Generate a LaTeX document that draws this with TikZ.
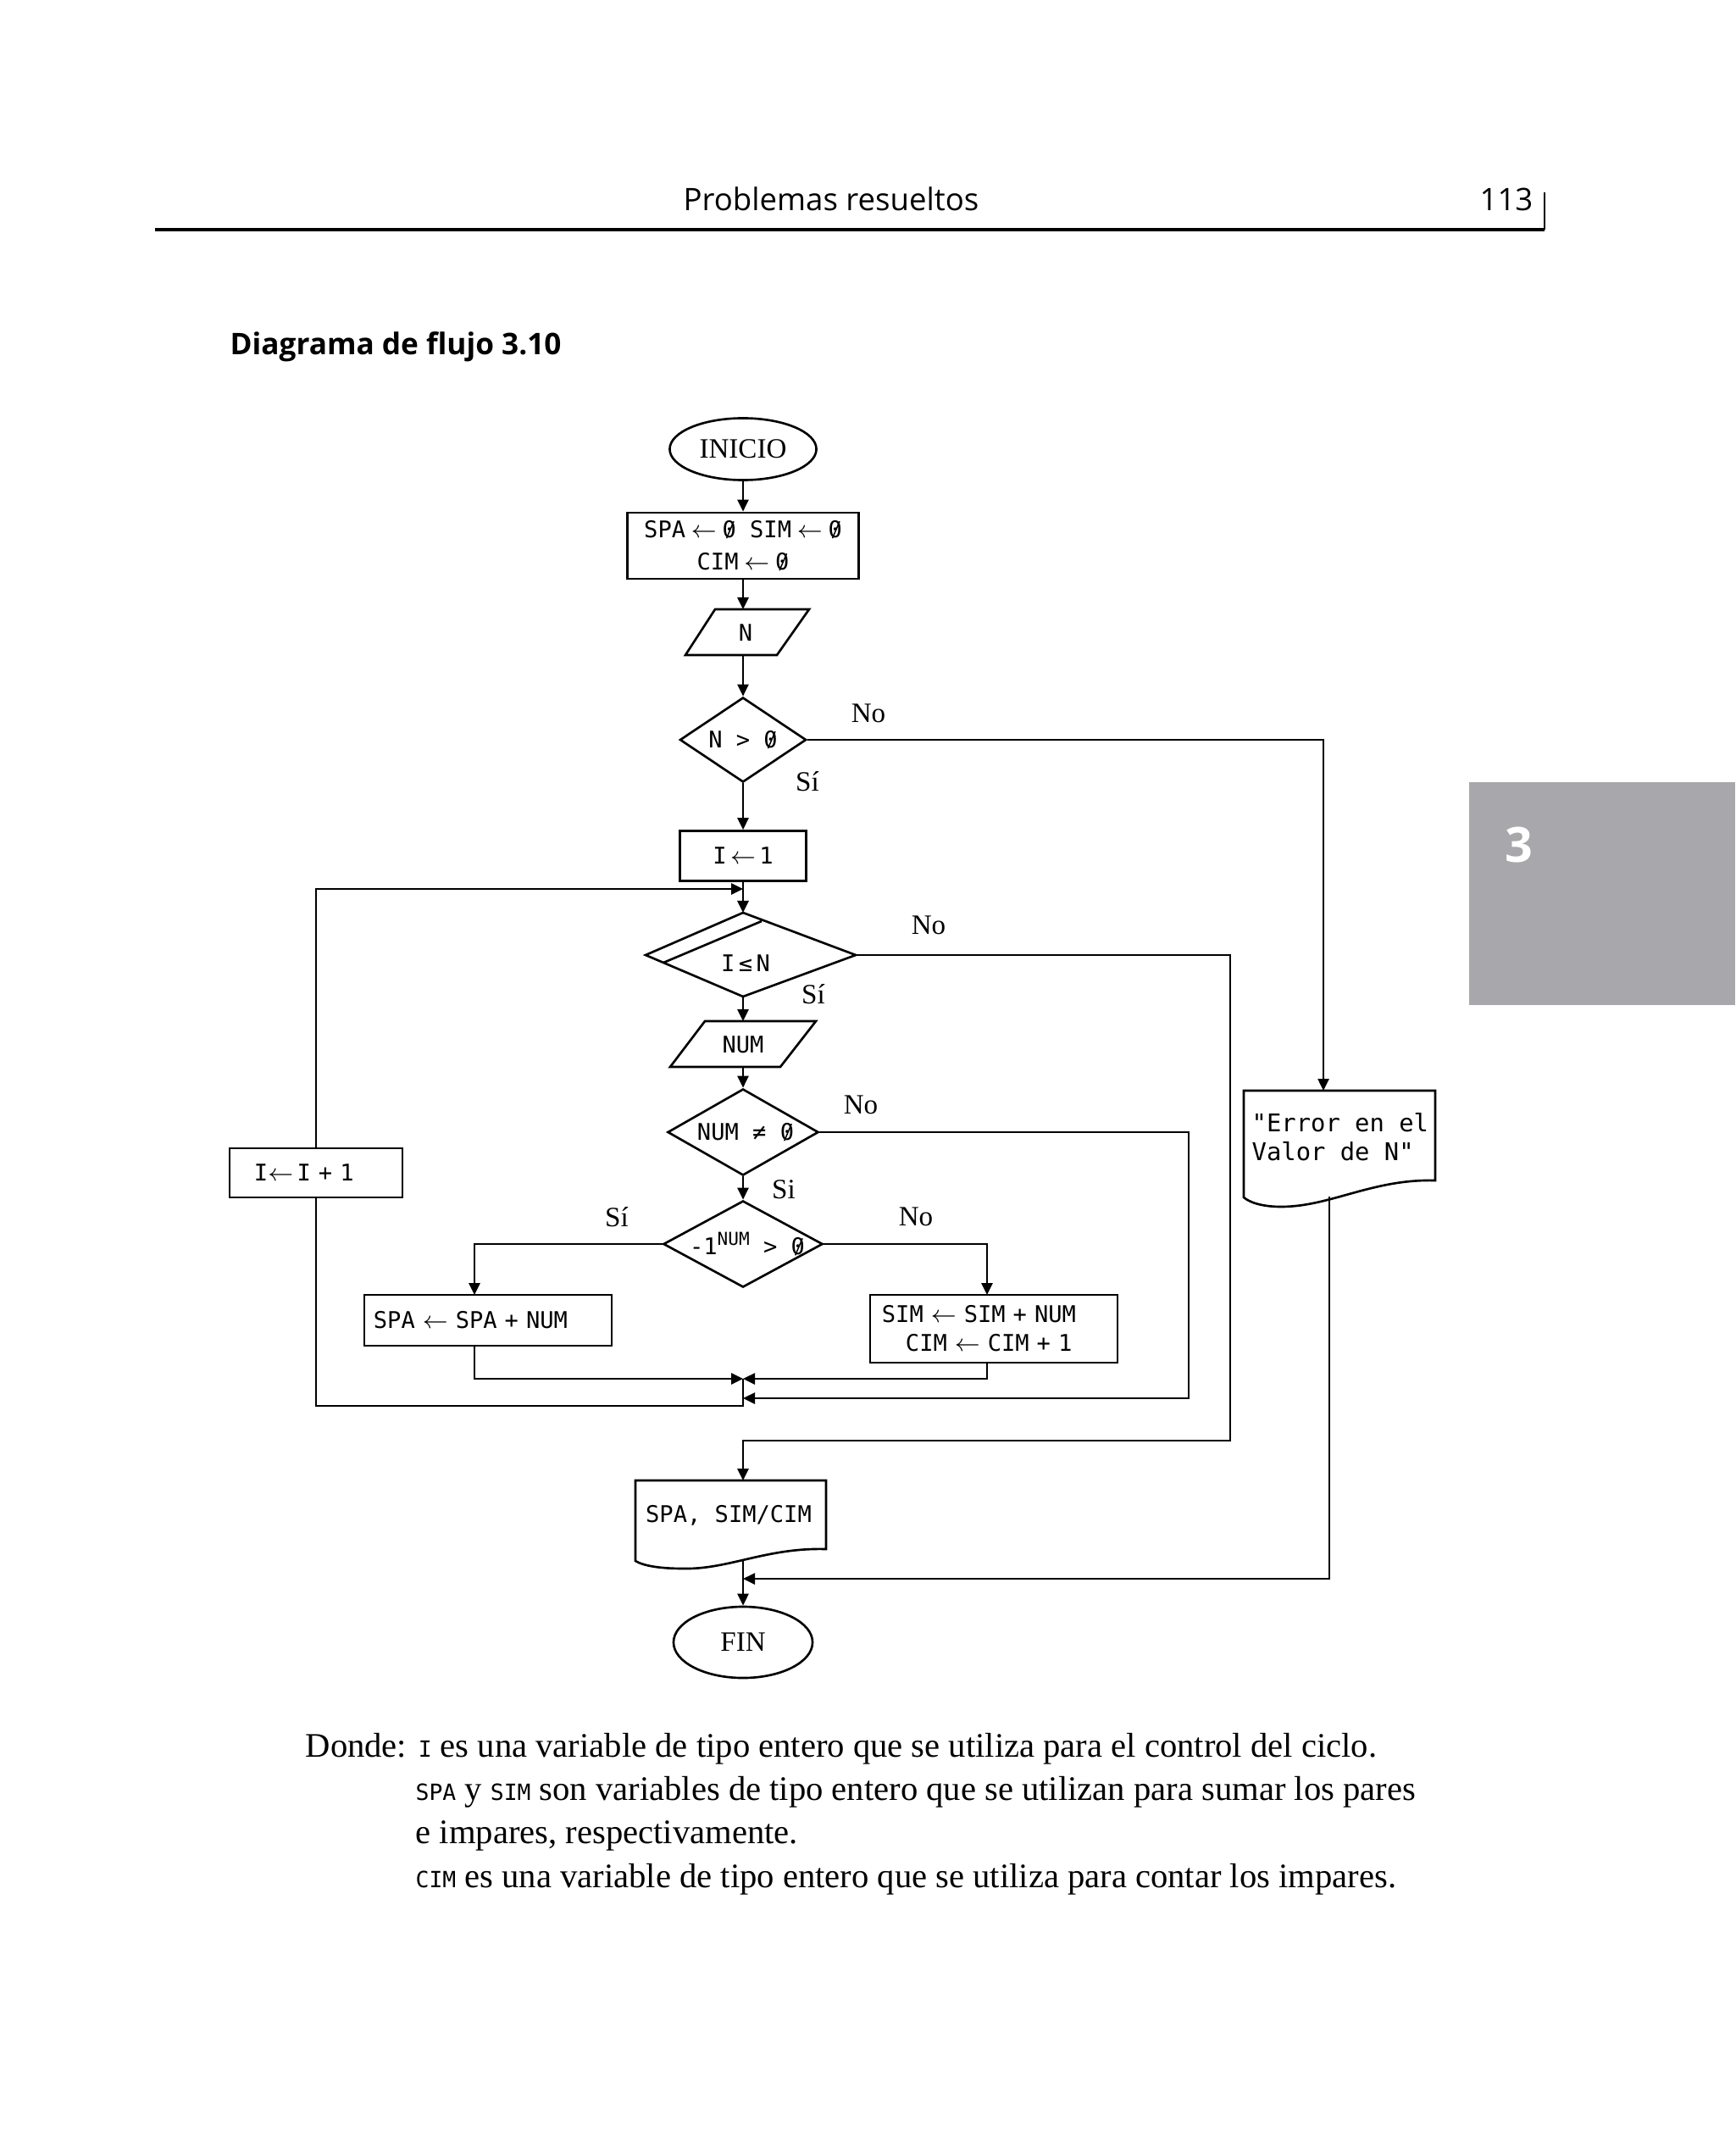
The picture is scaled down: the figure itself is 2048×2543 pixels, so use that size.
\documentclass[tikz,border=0pt]{standalone}
\usepackage{graphicx}
\usepackage{fontspec}
\setmainfont{Liberation Serif}
\newfontfamily\monof{DejaVu Sans Mono}
\newfontfamily\headf{Open Sans}
\usetikzlibrary{shapes.geometric,arrows.meta}
\definecolor{tabgray}{RGB}{168,167,171}
\newcommand{\vmono}[1]{{\monof\fontsize{7.5}{9}\selectfont #1}}
\newcommand{\larr}{\ensuremath{\leftarrow}}
\newcommand{\gsp}{\hspace{0.25em}}
\newcommand{\szero}{\makebox[0pt][l]{\hspace{0.16em}\raisebox{-0.03em}{\rotatebox{67}{\rule{0.8em}{0.055em}}}}0}
\begin{document}
\begin{tikzpicture}[x=0.01cm,y=-0.01cm,
  ln/.style={line width=0.75pt},
  arr/.style={ln,-{Triangle[length=0.14cm,width=0.13cm]}},
  lab/.style={font=\fontsize{9.4}{11}\selectfont, inner sep=0pt},
  mtxt/.style={font=\monof\fontsize{7.7}{10.8}\selectfont, inner sep=0pt},
  procbox/.style={draw, ln, rectangle, inner sep=0pt, font=\monof\fontsize{7.7}{10.8}\selectfont},
  term/.style={draw, ln, ellipse, inner sep=0pt, font=\fontsize{9.4}{11}\selectfont},
  decis/.style={draw, ln, diamond, inner sep=0pt},
  body/.style={font=\fontsize{11.55}{14}\selectfont, inner sep=0pt, anchor=base west}
]
\useasboundingbox (0,0) rectangle (2048,2543);
\fill[white] (0,0) rectangle (2048,2543);

% header
\node[font=\headf\fontsize{10.4}{12}\selectfont, anchor=base, inner sep=0pt] (hdr) at (981,249) {Problemas resueltos};
\node[font=\headf\fontsize{10.4}{12}\selectfont, anchor=base east, inner sep=0pt] (pg) at (1810,249) {113};
\draw[line width=1pt] (183,271) -- (1823,271);
\draw[line width=0.4pt] (1823,227) -- (1823,271);
\node[font=\headf\bfseries\fontsize{10}{12}\selectfont, anchor=base west, inner sep=0pt] (title) at (271,419) {Diagrama de flujo 3.10};
\fill[tabgray] (1734,923) rectangle (2048,1186);
\node[font=\headf\bfseries\fontsize{16.3}{18}\selectfont, text=white, inner sep=0pt] (tab) at (1793,997) {3};

% start and init
\node[term, minimum width=1.73cm, minimum height=0.73cm] (inicio) at (877,530) {INICIO};
\node[procbox, minimum width=2.73cm, minimum height=0.78cm, align=center] (init) at (877,644) {SPA\gsp\larr\gsp\szero{} SIM\gsp\larr\gsp\szero\\CIM\gsp\larr\gsp\szero};

% read N
\draw[ln] (844,719) -- (955,719) -- (917,773) -- (809,773) -- cycle;
\node[mtxt] (readN) at (880,747) {N};
\coordinate (readNtop) at (877,719);
\coordinate (readNbot) at (877,773);

% N > 0
\node[decis, minimum width=1.49cm, minimum height=1.0cm] (cond1) at (877,873) {};
\node[mtxt] (cond1T) at (877,873) {N > \szero};

% I <- 1
\node[procbox, minimum width=1.49cm, minimum height=0.59cm] (set1) at (877,1010) {I\,\larr\,1};

% loop decision I <= N
\coordinate (loopN) at (877,1077);
\coordinate (loopE) at (1010,1127);
\coordinate (loopS) at (877,1176);
\coordinate (loopW) at (762,1127);
\draw[ln] (loopN) -- (loopE) -- (loopS) -- (loopW) -- cycle;
\draw[ln] (899,1087) -- (783,1136);
\node[mtxt] (loopT) at (880,1137) {I\,≤\,N};
\coordinate (loopjoin) at (877,1049);

% read NUM
\draw[ln] (832,1205) -- (963,1205) -- (921,1259) -- (791,1259) -- cycle;
\node[mtxt] (readNUM) at (877,1233) {NUM};
\coordinate (readNUMtop) at (877,1205);
\coordinate (readNUMbot) at (877,1259);

% NUM != 0
\node[decis, minimum width=1.78cm, minimum height=1.02cm] (cond2) at (877,1336) {};
\node[mtxt] (cond2T) at (880,1336) {NUM ≠ \szero};

% -1^NUM > 0
\node[decis, minimum width=1.88cm, minimum height=1.02cm] (cond3) at (877,1468) {};
\node[mtxt] (cond3T) at (882,1468) {-1\raisebox{3.1pt}{\fontsize{6}{7}\selectfont NUM} > \szero};

% branch boxes
\node[procbox, minimum width=2.92cm, minimum height=0.6cm, text width=2.70cm, inner xsep=0.11cm, align=left] (spa) at (576,1558) {SPA \larr{} SPA + NUM};
\node[procbox, minimum width=2.92cm, minimum height=0.80cm, text width=2.64cm, inner xsep=0.14cm, align=left, font=\monof\fontsize{7.7}{9.7}\selectfont] (sim) at (1173,1568) {SIM \larr{} SIM + NUM\\\hspace*{0.28cm}CIM \larr{} CIM + 1};
\coordinate (spaN) at (560,1528);
\coordinate (spaS) at (560,1588);
\coordinate (simN) at (1165,1528);
\coordinate (simS) at (1165,1608);

% increment box
\node[procbox, minimum width=2.04cm, minimum height=0.58cm, text width=1.46cm, inner xsep=0.29cm, align=left] (inc) at (373,1384) {I\larr\,I + 1};

% junctions
\coordinate (j1) at (877,1627);
\coordinate (j2) at (877,1650);
\coordinate (j3) at (877,1659);
\coordinate (j4) at (877,1863);
\coordinate (rA) at (1452,1700);
\coordinate (rB) at (1403,1650);

% output document
\draw[ln] (750,1747) -- (975,1747) -- (975,1828) .. controls (905,1826) and (860,1852) .. (807,1851) .. controls (780,1851) and (760,1848) .. (750,1842) -- cycle;
\node[mtxt] (outT) at (860,1788) {SPA, SIM/CIM};
\coordinate (outN) at (877,1747);
\coordinate (outS) at (877,1840);

% error document
\draw[ln] (1468,1287) -- (1694,1287) -- (1694,1393) .. controls (1620,1391) and (1570,1424) .. (1512,1424) .. controls (1490,1424) and (1475,1419) .. (1468,1413) -- cycle;
\node[font=\monof\fontsize{8.2}{9.7}\selectfont, inner sep=0pt, align=left, anchor=west] (errT) at (1477,1342) {"Error en el\\Valor de N"};
\coordinate (errN) at (1562,1287);
\coordinate (errS) at (1569,1412);

% end
\node[term, minimum width=1.64cm, minimum height=0.84cm] (fin) at (877,1938) {FIN};

% connectors
\draw[arr] (inicio) -- (init);
\draw[arr] (init) -- (readNtop);
\draw[arr] (readNbot) -- (cond1);
\draw[arr] (cond1.east) -| (errN);
\draw[arr] (cond1) -- (set1);
\draw[arr] (set1) -- (loopN);
\draw[arr] (inc.north) |- (loopjoin);
\draw[arr] (loopE) -| (rA) -| (outN);
\draw[arr] (loopS) -- (readNUMtop);
\draw[arr] (readNUMbot) -- (cond2);
\draw[arr] (cond2.east) -| (rB) -- (j2);
\draw[arr] (cond2) -- (cond3);
\draw[arr] (cond3.west) -| (spaN);
\draw[arr] (cond3.east) -| (simN);
\draw[arr] (spaS) |- (j1);
\draw[arr] (simS) |- (j1);
\draw[ln] (j1) -- (j3) -| (inc.south);
\draw[arr] (outS) -- (fin);
\draw[arr] (errS) |- (j4);

% labels
\node[lab] (l1) at (1025,842) {No};
\node[lab] (l2) at (953,922) {Sí};
\node[lab] (l3) at (1096,1092) {No};
\node[lab] (l4) at (960,1173) {Sí};
\node[lab] (l5) at (1016,1304) {No};
\node[lab] (l6) at (925,1404) {Si};
\node[lab] (l7) at (1081,1436) {No};
\node[lab] (l8) at (728,1436) {Sí};

% body text
\node[body] (d1) at (360,2073) {Donde: \vmono{I} es una variable de tipo entero que se utiliza para el control del ciclo.};
\node[body] (d2) at (490,2124) {\vmono{SPA} y \vmono{SIM} son variables de tipo entero que se utilizan para sumar los pares};
\node[body] (d3) at (490,2175) {e impares, respectivamente.};
\node[body] (d4) at (490,2227) {\vmono{CIM} es una variable de tipo entero que se utiliza para contar los impares.};
\end{tikzpicture}
\end{document}
